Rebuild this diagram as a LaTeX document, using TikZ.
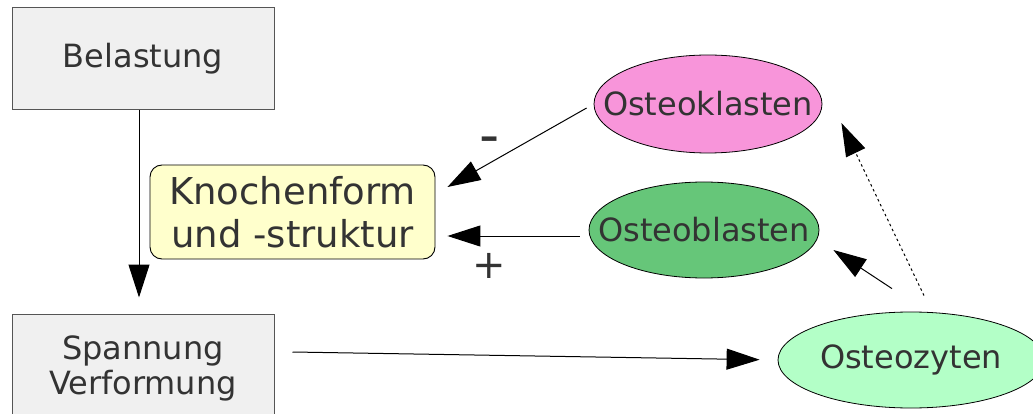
\documentclass[tikz,border=0pt]{standalone}
\usepackage{fontspec}
\setmainfont{DejaVu Sans}
\usetikzlibrary{
    arrows.meta,
    positioning,
    calc,
    shapes.geometric
}
\definecolor{textgray}{HTML}{333333}
\definecolor{boxgray}{HTML}{F0F0F0}
\definecolor{boxline}{HTML}{555555}
\definecolor{knochengelb}{HTML}{FFFFCC}
\definecolor{klastenpink}{HTML}{F895DA}
\definecolor{blastengruen}{HTML}{66C679}
\definecolor{zytengruen}{HTML}{B3FFC7}
\tikzset{
    % --- Grey input/state block ---
    stage box/.style = {
        rectangle, draw=boxline, fill=boxgray, line width=1pt,
        minimum width=262pt, minimum height=102pt,
        inner sep=0pt, align=center, text=textgray,
        font=\fontsize{32}{35}\selectfont
    },
    % --- Rounded block for the bone ---
    bone box/.style = {
        rectangle, draw=black, fill=knochengelb, rounded corners=12pt,
        line width=0.9pt,
        minimum width=285pt, minimum height=94pt,
        inner sep=0pt, align=center, text=textgray,
        font=\fontsize{37}{43}\selectfont
    },
    % --- Cell type ellipse (size set by minimum width/height only) ---
    cell/.style = {
        ellipse, draw=black, line width=0.8pt,
        minimum height=96pt, inner xsep=-80pt, inner ysep=0pt,
        text=textgray, font=\fontsize{32}{35}\selectfont
    },
    % --- Sign label on a connector ---
    sign/.style = {
        text=textgray, inner sep=0pt
    },
    % --- Connector with big filled tip ---
    conn/.style = {
        -{Triangle[length=33pt, width=21pt]}, line width=1pt
    },
    % --- Weak / indirect connector ---
    weak conn/.style = {
        conn, dash pattern=on 2.5pt off 3pt
    }
}
\begin{document}
\begin{tikzpicture}[x=1pt, y=-1pt]
\useasboundingbox (0,0) rectangle (1033,414);

% ---------------------------------------------------------
% Blocks
% ---------------------------------------------------------
\node[stage box] (bel) at (143,59) {Belastung};
\node[stage box, minimum height=108pt] (spa) at (143,368) {Spannung\\Verformung};
\node[bone box] (kno) at (292.5,212) {Knochenform\\und -struktur};

% ---------------------------------------------------------
% Cells
% ---------------------------------------------------------
\node[cell, fill=klastenpink, minimum width=228pt, minimum height=98pt] (okl) at (708,104) {Osteoklasten};
\node[cell, fill=blastengruen, minimum width=230pt] (obl) at (704,230) {Osteoblasten};
\node[cell, fill=zytengruen, minimum width=266pt] (ozy) at (911,360) {Osteozyten};

% ---------------------------------------------------------
% Connectors
% ---------------------------------------------------------
\draw[conn, shorten >=16pt] ([xshift=-4pt]bel.south) -- ([xshift=-4pt]spa.north);
\draw[conn, shorten >=18pt] ([shift={(18,-16)}]spa.east) -- (ozy.west);
\draw[conn] ([shift={(-7,4)}]okl.west) -- ([shift={(12,-25)}]kno.east);
\draw[conn] ([shift={(-9,6)}]obl.west) -- ([shift={(12,24)}]kno.east);
\draw[conn] ([shift={(-19,-23)}]ozy.north) -- ([shift={(14,20)}]obl.east);
\draw[weak conn] ([shift={(13,-16)}]ozy.north) -- ([shift={(19,19)}]okl.east);

% Signs
\node[sign, font=\fontsize{56}{56}\selectfont] (minus) at (490,145.5) {-};
\node[sign, font=\fontsize{40}{40}\selectfont] (plus) at (489,266) {+};

\end{tikzpicture}
\end{document}
